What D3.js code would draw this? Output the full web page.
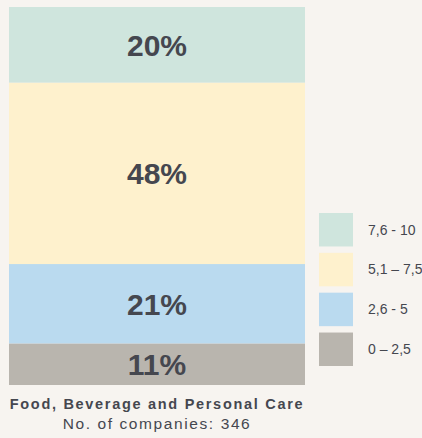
<!DOCTYPE html>
<html lang="en">
<head>
  <meta charset="UTF-8" />
  <title>Food, Beverage and Personal Care</title>
  <style>
    html, body { margin: 0; padding: 0; background: #f7f4f0; }
    svg { display: block; }
    text { fill: #45474f; font-family: "Liberation Sans", Arial, sans-serif; }
  </style>
</head>
<body>
  <svg id="chart"></svg>

  <script src="https://d3js.org/d3.v7.min.js"></script>
  <script>
    // score bands, bottom to top
    const bands = ["0 – 2,5", "2,6 - 5", "5,1 – 7,5", "7,6 - 10"];
    const shares = [11, 21, 48, 20];
    const colors = ["#b9b5ae", "#badaef", "#fef1cd", "#cfe5dd"];
    const title = "Food, Beverage and Personal Care";
    const subtitle = "No. of companies: 346";

    const W = 422, H = 438;
    const svg = d3.select("#chart").attr("width", W).attr("height", H);

    const rows = bands.map((b, i) => ({ band: b, value: shares[i], color: colors[i] }));
    let acc = 0;
    rows.forEach(d => { d.y0 = acc; acc += d.value; d.y1 = acc; });

    const x = d3.scaleBand().domain([title]).range([9, 305]).padding(0);
    const y = d3.scaleLinear().domain([0, 100]).range([385, 7]);

    const bar = svg.append("g");
    bar.selectAll("rect")
      .data(rows)
      .join("rect")
      .attr("x", x(title))
      .attr("width", x.bandwidth())
      .attr("y", d => y(d.y1))
      .attr("height", d => y(d.y0) - y(d.y1))
      .attr("fill", d => d.color);

    bar.selectAll("text")
      .data(rows)
      .join("text")
      .attr("x", x(title) + x.bandwidth() / 2)
      .attr("y", d => (y(d.y0) + y(d.y1)) / 2)
      .attr("dy", "0.36em")
      .attr("text-anchor", "middle")
      .attr("font-size", "30px")
      .attr("font-weight", "bold")
      .text(d => d.value + "%");

    // category label under the bar
    svg.append("text")
      .attr("x", x(title) + x.bandwidth() / 2)
      .attr("y", 409)
      .attr("text-anchor", "middle")
      .attr("font-size", "14.5px")
      .attr("font-weight", "bold")
      .attr("letter-spacing", "1.7px")
      .text(title);

    svg.append("text")
      .attr("x", x(title) + x.bandwidth() / 2)
      .attr("y", 429)
      .attr("text-anchor", "middle")
      .attr("font-size", "15.5px")
      .attr("letter-spacing", "1.6px")
      .text(subtitle);

    // legend, top entry first
    const ly = d3.scaleBand()
      .domain(bands.slice().reverse())
      .range([213, 366])
      .paddingInner(0.16);

    const legend = svg.append("g")
      .selectAll("g")
      .data(rows)
      .join("g")
      .attr("transform", d => `translate(319, ${ly(d.band)})`);

    legend.append("rect")
      .attr("width", 34)
      .attr("height", ly.bandwidth())
      .attr("fill", d => d.color);

    legend.append("text")
      .attr("x", 49)
      .attr("y", ly.bandwidth() / 2)
      .attr("dy", "0.35em")
      .attr("font-size", "14px")
      .text(d => d.band);
  </script>
</body>
</html>
